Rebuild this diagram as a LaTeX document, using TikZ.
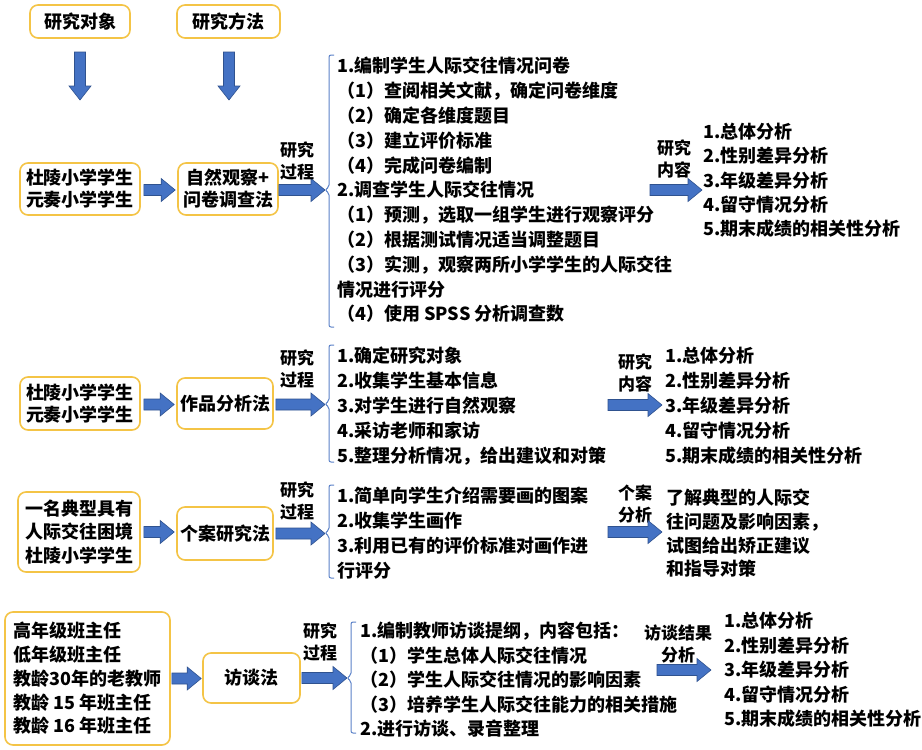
\documentclass[tikz,border=0pt]{standalone}
\usepackage{fontspec}
\setmainfont{Noto Sans CJK SC}
\usetikzlibrary{calc}
\definecolor{boxgold}{RGB}{244,196,70}
\definecolor{arrowblue}{RGB}{68,114,196}
\definecolor{arrowedge}{RGB}{47,82,143}
\definecolor{brak}{RGB}{91,130,200}
\tikzset{
 box/.style={draw=boxgold, line width=1.6pt, rounded corners=8pt, fill=white, inner sep=0pt, align=center, font=\bfseries\fontsize{18}{22}\selectfont},
 lst/.style={anchor=north west, inner sep=0pt, align=left, font=\bfseries\fontsize{18}{24.8}\selectfont},
 lab/.style={inner sep=0pt, align=center, font=\bfseries\fontsize{17}{22}\selectfont},
 brk/.style={draw=brak, line width=1pt, rounded corners=2pt},
 fat/.style={draw=arrowedge, fill=arrowblue, line width=0.6pt},
}
\newcommand\hfat[2]{\path[fat] let \p1=(#1), \p2=(#2) in (\x1,\y1+5.5pt) -- (\x2-14pt,\y1+5.5pt) -- (\x2-14pt,\y1+11.5pt) -- (\x2,\y1) -- (\x2-14pt,\y1-11.5pt) -- (\x2-14pt,\y1-5.5pt) -- (\x1,\y1-5.5pt) -- cycle;}
\newcommand\vfat[2]{\path[fat] let \p1=(#1), \p2=(#2) in (\x1-5.5pt,\y1) -- (\x1-5.5pt,\y2+14pt) -- (\x1-11pt,\y2+14pt) -- (\x1,\y2) -- (\x1+11pt,\y2+14pt) -- (\x1+5.5pt,\y2+14pt) -- (\x1+5.5pt,\y1) -- cycle;}
\begin{document}
\begin{tikzpicture}[x=1pt,y=-1pt]
\useasboundingbox (0,0) rectangle (922,750);
\fill[white] (0,0) rectangle (922,750);

% top headers
\node[box, minimum width=100, minimum height=33] (obj) at (80,21.5) {研究对象};
\node[box, minimum width=103, minimum height=33] (meth) at (228.5,21.5) {研究方法};
\coordinate (v1s) at (80,52); \coordinate (v1e) at (80,100);
\coordinate (v2s) at (229,52); \coordinate (v2e) at (229,100);
\vfat{v1s}{v1e}
\vfat{v2s}{v2e}

% ---------- section 1
\node[box, minimum width=120, minimum height=52] (s1) at (80,189) {杜陵小学学生\\元奏小学学生};
\node[box, minimum width=100, minimum height=52] (m1) at (228,189) {自然观察+\\问卷调查法};
\coordinate (b1) at (325,190);
\hfat{$(s1.east)+(3,1)$}{$(m1.west)+(-2,1)$}
\hfat{$(m1.east)+(0,1)$}{b1}
\node[lab] (l1) at (297,161) {研究\\过程};
\draw[brk] (334,55) -- (329,55) -- (329,187) -- (325,190) -- (329,193) -- (329,327) -- (334,327);
\node[lst] (t1) at (337,57) {1.编制学生人际交往情况问卷\\（1）查阅相关文献，确定问卷维度\\（2）确定各维度题目\\（3）建立评价标准\\（4）完成问卷编制\\2.调查学生人际交往情况\\（1）预测，选取一组学生进行观察评分\\（2）根据测试情况适当调整题目\\（3）实测，观察两所小学学生的人际交往\\情况进行评分\\（4）使用 SPSS 分析调查数};
\node[lab] (k1) at (674,159) {研究\\内容};
\coordinate (c1s) at (650,190); \coordinate (c1e) at (702,190);
\hfat{c1s}{c1e}
\node[lst, font=\bfseries\fontsize{18}{24.3}\selectfont] (r1) at (703,123) {1.总体分析\\2.性别差异分析\\3.年级差异分析\\4.留守情况分析\\5.期末成绩的相关性分析};

% ---------- section 2
\node[box, minimum width=120, minimum height=53] (s2) at (80,403.5) {杜陵小学学生\\元奏小学学生};
\node[box, minimum width=96, minimum height=51] (m2) at (225,403.5) {作品分析法};
\coordinate (b2) at (325,404);
\hfat{$(s2.east)+(3,1)$}{$(m2.west)+(-2,1)$}
\hfat{$(m2.east)+(2,1)$}{b2}
\node[lab] (l2) at (297,368.5) {研究\\过程};
\draw[brk] (334,345) -- (329,345) -- (329,401) -- (325,404) -- (329,407) -- (329,462) -- (334,462);
\node[lst, font=\bfseries\fontsize{18}{25}\selectfont] (t2) at (337,347) {1.确定研究对象\\2.收集学生基本信息\\3.对学生进行自然观察\\4.采访老师和家访\\5.整理分析情况，给出建议和对策};
\node[lab] (k2) at (635,372.5) {研究\\内容};
\coordinate (c2s) at (608,405); \coordinate (c2e) at (662,405);
\hfat{c2s}{c2e}
\node[lst, font=\bfseries\fontsize{18}{25}\selectfont] (r2) at (665,347) {1.总体分析\\2.性别差异分析\\3.年级差异分析\\4.留守情况分析\\5.期末成绩的相关性分析};

% ---------- section 3
\node[box, minimum width=122, minimum height=80, font=\bfseries\fontsize{18}{23.5}\selectfont] (s3) at (79,532) {一名典型具有\\人际交往困境\\杜陵小学学生};
\node[box, minimum width=96, minimum height=53] (m3) at (225,533.5) {个案研究法};
\coordinate (b3) at (325,533);
\hfat{$(s3.east)+(3,0)$}{$(m3.west)+(-2,0)$}
\hfat{$(m3.east)+(2,0)$}{b3}
\node[lab] (l3) at (297,501) {研究\\过程};
\draw[brk] (334,485) -- (329,485) -- (329,530) -- (325,533) -- (329,536) -- (329,578) -- (334,578);
\node[lst, font=\bfseries\fontsize{18}{25}\selectfont] (t3) at (337,487) {1.简单向学生介绍需要画的图案\\2.收集学生画作\\3.利用已有的评价标准对画作进\\行评分};
\node[lab] (k3) at (635,503.5) {个案\\分析};
\coordinate (c3s) at (608,532); \coordinate (c3e) at (662,532);
\hfat{c3s}{c3e}
\node[lst, font=\bfseries\fontsize{18}{23.7}\selectfont] (r3) at (666,489) {了解典型的人际交\\往问题及影响因素，\\试图给出矫正建议\\和指导对策};

% ---------- section 4
\node[box, minimum width=165, minimum height=133, align=left, font=\bfseries\fontsize{18}{23.8}\selectfont] (s4) at (87.5,678.5) {高年级班主任\\低年级班主任\\教龄30年的老教师\\教龄 15 年班主任\\教龄 16 年班主任};
\node[box, minimum width=97, minimum height=50] (m4) at (251.5,678) {访谈法};
\coordinate (b4) at (347,678);
\hfat{$(s4.east)+(1,0)$}{$(m4.west)+(-1,0)$}
\hfat{$(m4.east)+(1,0)$}{b4}
\node[lab] (l4) at (320,641.5) {研究\\过程};
\draw[brk] (356,622) -- (351,622) -- (351,675) -- (347,678) -- (351,681) -- (351,733) -- (356,733);
\node[lst, font=\bfseries\fontsize{18}{24.5}\selectfont] (t4) at (360,622) {1.编制教师访谈提纲，内容包括：\\（1）学生总体人际交往情况\\（2）学生人际交往情况的影响因素\\（3）培养学生人际交往能力的相关措施\\2.进行访谈、录音整理};
\node[lab] (k4) at (678,643.5) {访谈结果\\分析};
\coordinate (c4s) at (657,670); \coordinate (c4e) at (711,670);
\hfat{c4s}{c4e}
\node[lst, font=\bfseries\fontsize{18}{24.5}\selectfont] (r4) at (724,612) {1.总体分析\\2.性别差异分析\\3.年级差异分析\\4.留守情况分析\\5.期末成绩的相关性分析};
\end{tikzpicture}
\end{document}
